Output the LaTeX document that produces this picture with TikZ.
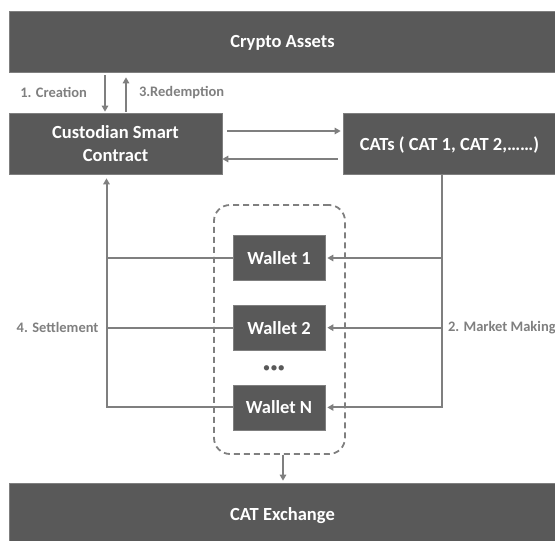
\documentclass[tikz,border=0pt]{standalone}
\usepackage{fontspec}
\setmainfont{Carlito}
\usetikzlibrary{positioning}
\usetikzlibrary{arrows.meta}
\definecolor{boxgray}{HTML}{595959}
\definecolor{linegray}{HTML}{7F7F7F}

\begin{document}
\begin{tikzpicture}[x=1pt, y=-1pt,
  box/.style={fill=boxgray, draw=linegray, line width=0.7pt, text=white, inner sep=0pt,
    text depth=0pt, align=center, font=\fontsize{18.5}{23}\selectfont\bfseries},
  lbl/.style={text=linegray, inner sep=0pt, font=\fontsize{14.5}{17}\selectfont\bfseries},
  conn/.style={draw=linegray, line width=2pt},
  arr/.style={conn, -{Triangle[length=6pt,width=6.5pt]}}]
\useasboundingbox (0,0) rectangle (555,541);
%boxes
\node[box, minimum width=547pt, minimum height=61pt] (crypto) at (282.5,41.5) {Crypto Assets};
\node[box, minimum width=213pt, minimum height=61pt] (cust) at (115.5,143.5) {Custodian Smart\\Contract};
\node[box, minimum width=213pt, minimum height=61pt] (cats) at (449.5,143.5) {CATs ( CAT 1, CAT 2,……)};
\node[box, minimum width=547pt, minimum height=62pt] (exch) at (282.5,514) {CAT Exchange};

%wallets
\node[draw=linegray, line width=1.8pt, dash pattern=on 6pt off 4pt, rounded corners=16pt,
  minimum width=131pt, minimum height=249pt] (wgrp) at (279.5,329.5) {};
\node[box, minimum width=92pt, minimum height=45pt] (w1) at (279,258) {Wallet 1};
\node[box, minimum width=92pt, minimum height=45pt, below=24pt of w1] (w2) {Wallet 2};
\node[box, minimum width=92pt, minimum height=45pt, below=34pt of w2] (wn) {Wallet N};
\node[text=boxgray, inner sep=0pt, font=\fontsize{15}{15}\selectfont] (dots) at (274,369) {•••};

%creation / redemption
\coordinate (cdown) at ([xshift=-10.5pt]cust.north);
\coordinate (cup) at ([xshift=10.5pt]cust.north);
\draw[arr, shorten <=3pt, shorten >=1pt] (cdown |- crypto.south) -- (cdown)
  node[lbl, midway, left=17pt] (creation) {1. Creation};
\draw[arr, shorten <=1pt, shorten >=5pt] (cup) -- (cup |- crypto.south)
  node[lbl, midway, right=12pt] (redeem) {3.Redemption};

%custodian <-> cats
\draw[arr, shorten <=5pt, shorten >=2pt] ([yshift=12.5pt]cust.east) -- ([yshift=12.5pt]cats.west);
\draw[arr, shorten <=5pt] ([yshift=-15.5pt]cats.west) -- ([yshift=-15.5pt]cust.east);

%market making
\coordinate (mkt) at ([xshift=-7.5pt]cats.south);
\draw[arr, shorten >=2pt] (mkt) |- (wn.east);
\draw[arr, shorten >=2pt] (mkt |- w1.east) -- (w1.east);
\draw[arr, shorten >=2pt] (mkt |- w2.east) node[lbl, right=5pt] (mktlbl) {2. Market Making} -- (w2.east);

%settlement
\coordinate (stl) at ([xshift=-9pt]cust.south);
\draw[arr, shorten >=4pt] (wn.west) -| (stl);
\draw[conn] (w1.west) -- (stl |- w1.west);
\draw[conn] (w2.west) -- (stl |- w2.west) node[lbl, left=7pt] (stllbl) {4. Settlement};

%exchange
\coordinate (xin) at ([xshift=3.5pt]wgrp.south);
\draw[arr, shorten >=2pt] (xin) -- (xin |- exch.north);

\end{tikzpicture}
\end{document}
